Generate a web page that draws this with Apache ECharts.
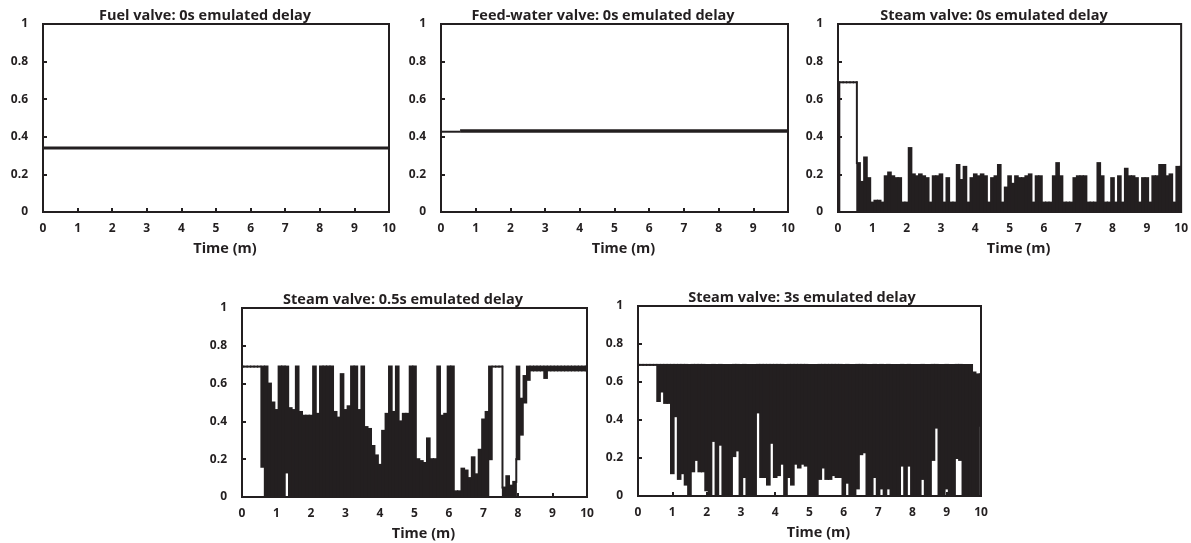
<!DOCTYPE html>
<html><head><meta charset="utf-8">
<script src="https://cdn.jsdelivr.net/npm/echarts@6/dist/echarts.min.js"></script>
<style>html,body{margin:0;padding:0;background:#fff}#c{width:1191px;height:543px}</style>
</head><body><div id="c"></div>
<script>
// ---------------- DATA ----------------
// Tick labels
const xTicks = [0,1,2,3,4,5,6,7,8,9,10];
const yTicks = [0,0.2,0.4,0.6,0.8,1];

// Panel titles
const titles = [
  'Fuel valve: 0s emulated delay',
  'Feed-water valve: 0s emulated delay',
  'Steam valve: 0s emulated delay',
  'Steam valve: 0.5s emulated delay',
  'Steam valve: 3s emulated delay'
];

// Fuel valve (constant)
const fuelTimes  = [0, 10];
const fuelValues = [0.34, 0.34];

// Feed-water valve
const feedStartTimes  = [0, 0.55];
const feedStartValues = [0.427, 0.427];
const feedMainTimes   = [0.55, 10];
const feedMainValues  = [0.431, 0.431];

// Time bins (minutes) for the oscillating steam-valve traces: each bin has a low and a high reading
const binTimes = [0,0.1,0.2,0.3,0.4,0.5,0.6,0.7,0.8,0.9,
  1,1.1,1.2,1.3,1.4,1.5,1.6,1.7,1.8,1.9,
  2,2.1,2.2,2.3,2.4,2.5,2.6,2.7,2.8,2.9,
  3,3.1,3.2,3.3,3.4,3.5,3.6,3.7,3.8,3.9,
  4,4.1,4.2,4.3,4.4,4.5,4.6,4.7,4.8,4.9,
  5,5.1,5.2,5.3,5.4,5.5,5.6,5.7,5.8,5.9,
  6,6.1,6.2,6.3,6.4,6.5,6.6,6.7,6.8,6.9,
  7,7.1,7.2,7.3,7.4,7.5,7.6,7.7,7.8,7.9,
  8,8.1,8.2,8.3,8.4,8.5,8.6,8.7,8.8,8.9,
  9,9.1,9.2,9.3,9.4,9.5,9.6,9.7,9.8,9.9,10];

// Steam valve, 0s delay
const steam0Low = [0,0.69,0.69,0.69,0.69,0.69,0,0,0,0,
  0,0,0,0,0,0,0,0,0,0,
  0,0,0,0,0,0,0,0,0,0,
  0,0,0,0,0,0,0,0,0,0,
  0,0,0,0,0,0,0,0,0,0,
  0,0,0,0,0,0,0,0,0,0,
  0,0,0,0,0,0,0,0,0,0,
  0,0,0,0,0,0,0,0,0,0,
  0,0,0,0,0,0,0,0,0,0,
  0,0,0,0,0,0,0,0,0,0,0];
const steam0High = [0.69,0.69,0.69,0.69,0.69,0.69,0.26,0.16,0.29,0.18,
  0.05,0.06,0.06,0.05,0.19,0.21,0.19,0.18,0.18,0.05,
  0.05,0.34,0.2,0.19,0.2,0.19,0.18,0.05,0.19,0.19,
  0.2,0.05,0.18,0.05,0.05,0.25,0.17,0.24,0.05,0.18,
  0.2,0.19,0.2,0.19,0.05,0.18,0.19,0.25,0.05,0.13,
  0.19,0.15,0.19,0.18,0.18,0.19,0.2,0.05,0.19,0.19,
  0.05,0.05,0.05,0.19,0.26,0.19,0.05,0.05,0.05,0.18,
  0.19,0.19,0.19,0.05,0.05,0.05,0.26,0.19,0.05,0.05,
  0.18,0.05,0.19,0.05,0.23,0.19,0.19,0.18,0.05,0.18,
  0.18,0.05,0.19,0.19,0.25,0.25,0.19,0.2,0.05,0.24,0.24];

// Steam valve, 0.5s delay
const steam05Low = [0.69,0.69,0.69,0.69,0.69,0.69,0.16,0,0,0,
  0,0,0,0.13,0,0,0,0,0,0,
  0,0,0,0,0,0,0,0,0,0,
  0,0,0,0,0,0,0,0,0,0,
  0,0,0,0,0,0,0,0,0,0,
  0,0,0,0,0,0,0,0,0,0,
  0,0,0,0,0,0,0,0,0,0,
  0,0,0.2,0.69,0.69,0.69,0,0,0,0,
  0.2,0.33,0.5,0.62,0.67,0.67,0.67,0.67,0.63,0.67,
  0.67,0.67,0.67,0.67,0.67,0.67,0.67,0.67,0.67,0.67,0.67];
const steam05High = [0.69,0.69,0.69,0.69,0.69,0.69,0.69,0.69,0.6,0.5,
  0.46,0.69,0.69,0.69,0.47,0.46,0.69,0.45,0.43,0.43,
  0.43,0.69,0.44,0.69,0.69,0.69,0.69,0.45,0.42,0.65,
  0.46,0.48,0.69,0.69,0.46,0.69,0.37,0.36,0.27,0.22,
  0.17,0.35,0.44,0.69,0.45,0.69,0.4,0.44,0.44,0.69,
  0.69,0.2,0.19,0.18,0.31,0.2,0.2,0.69,0.43,0.44,
  0.69,0.69,0.03,0.03,0.15,0.14,0.1,0.21,0.12,0.25,
  0.41,0.45,0.69,0.69,0.69,0.69,0.05,0.11,0.06,0.08,
  0.69,0.52,0.64,0.69,0.69,0.69,0.69,0.69,0.69,0.69,
  0.69,0.69,0.69,0.69,0.69,0.69,0.69,0.69,0.69,0.69,0.69];

// Steam valve, 3s delay
const steam3Low = [0.69,0.69,0.69,0.69,0.69,0.69,0.5,0.55,0.49,0.49,
  0.12,0.42,0.09,0.12,0.06,0,0.13,0.19,0.13,0.13,
  0.03,0,0.29,0,0.27,0,0,0,0.21,0.24,
  0,0.1,0,0,0,0.44,0.1,0.1,0.06,0.28,
  0.1,0.11,0.17,0,0.1,0.06,0.17,0.15,0.17,0.16,
  0,0,0,0.09,0.15,0.09,0.09,0.11,0.1,0.1,
  0,0.07,0,0,0.04,0.22,0.23,0,0,0.1,
  0,0.04,0,0.04,0,0,0,0.16,0,0.16,
  0,0,0,0.09,0,0,0.19,0.36,0,0,
  0.04,0,0,0.2,0.19,0,0,0,0,0,0.37];
const steam3High = [0.69,0.69,0.69,0.69,0.69,0.69,0.69,0.69,0.69,0.69,
  0.69,0.69,0.69,0.69,0.69,0.69,0.69,0.69,0.69,0.69,
  0.69,0.69,0.69,0.69,0.69,0.69,0.69,0.69,0.69,0.69,
  0.69,0.69,0.69,0.69,0.69,0.69,0.69,0.69,0.69,0.69,
  0.69,0.69,0.69,0.69,0.69,0.69,0.69,0.69,0.69,0.69,
  0.69,0.69,0.69,0.69,0.69,0.69,0.69,0.69,0.69,0.69,
  0.69,0.69,0.69,0.69,0.69,0.69,0.69,0.69,0.69,0.69,
  0.69,0.69,0.69,0.69,0.69,0.69,0.69,0.69,0.69,0.69,
  0.69,0.69,0.69,0.69,0.69,0.69,0.69,0.69,0.69,0.69,
  0.69,0.69,0.69,0.69,0.69,0.69,0.69,0.69,0.65,0.64,0.64];

// ---------------- CHART ----------------
const ink = '#231f20';
const font = '"Open Sans", Lato, "DejaVu Sans", sans-serif';

function pairs(ts, vs) { return ts.map((t, i) => [t, vs[i]]); }

const layout = [
  { grid: {left: 43,  top: 24,  width: 346, height: 188}, tx: 205, ty: 8 },
  { grid: {left: 441, top: 24,  width: 347, height: 188}, tx: 603, ty: 8 },
  { grid: {left: 838, top: 24,  width: 345, height: 188}, tx: 994, ty: 8 },
  { grid: {left: 242, top: 308, width: 345, height: 189}, tx: 403, ty: 292 },
  { grid: {left: 638, top: 306, width: 343, height: 190}, tx: 802, ty: 290 }
];

const grids = [], xAxes = [], yAxes = [], titleOpts = [];
layout.forEach((p, k) => {
  grids.push(Object.assign({show: true, borderColor: ink, borderWidth: 2, backgroundColor: 'transparent'}, p.grid));
  xAxes.push({
    type: 'value', gridIndex: k, min: xTicks[0], max: xTicks[xTicks.length - 1], interval: 1,
    axisLine: {show: true, onZero: false, lineStyle: {color: ink, width: 2}},
    axisTick: {show: true, inside: true, length: 4, lineStyle: {color: ink, width: 2}},
    axisLabel: {color: ink, fontFamily: font, fontWeight: 'bold', fontSize: 12, margin: 11},
    splitLine: {show: false},
    name: 'Time (m)', nameLocation: 'middle', nameGap: 29,
    nameTextStyle: {color: ink, fontFamily: font, fontWeight: 'bold', fontSize: 14.5, padding: [0, 0, 0, 18]}
  });
  yAxes.push({
    type: 'value', gridIndex: k, min: yTicks[0], max: yTicks[yTicks.length - 1], interval: 0.2,
    axisLine: {show: true, onZero: false, lineStyle: {color: ink, width: 2}},
    axisTick: {show: true, inside: true, length: 4, lineStyle: {color: ink, width: 2}},
    axisLabel: {color: ink, fontFamily: font, fontWeight: 'bold', fontSize: 12, margin: 15},
    splitLine: {show: false}
  });
  titleOpts.push({
    text: titles[k], left: p.tx, top: p.ty, textAlign: 'center', padding: 0,
    textStyle: {color: ink, fontFamily: font, fontWeight: 'bold', fontSize: 14.5}
  });
});

function lineSeries(k, data, width) {
  return {
    type: 'line', xAxisIndex: k, yAxisIndex: k, data: data,
    showSymbol: false, symbol: 'none', animation: false,
    lineStyle: {color: ink, width: width}
  };
}

// Each bin: the range between its low and high reading, filled; consecutive bins joined by a vertical stroke
function bandSeries(k, lo, hi) {
  const half = (binTimes[1] - binTimes[0]) / 2;
  return {
    type: 'custom', xAxisIndex: k, yAxisIndex: k, clip: true, animation: false,
    data: binTimes.map((t, i) => [t, lo[i], hi[i]]),
    encode: {x: 0, y: [1, 2]},
    renderItem: function (params, api) {
      const i = params.dataIndex;
      const t = api.value(0), l = api.value(1), h = api.value(2);
      const a = api.coord([t - half, h]);
      const b = api.coord([t + half, l]);
      const children = [{
        type: 'rect',
        shape: {x: a[0] - 0.6, y: a[1] - 1, width: b[0] - a[0] + 1.2, height: b[1] - a[1] + 2},
        style: {fill: ink}
      }];
      if (i < binTimes.length - 1) {
        const nl = lo[i + 1], nh = hi[i + 1];
        let y0 = null, y1 = null;
        if (h < nl) { y0 = h; y1 = nl; }
        else if (l > nh) { y0 = nh; y1 = l; }
        if (y0 !== null) {
          const p = api.coord([t + half, y0]);
          const q = api.coord([t + half, y1]);
          children.push({type: 'line', shape: {x1: p[0], y1: p[1] + 1, x2: q[0], y2: q[1] - 1},
            style: {stroke: ink, lineWidth: 2}});
        }
      }
      return {type: 'group', children: children};
    }
  };
}

const series = [
  lineSeries(0, pairs(fuelTimes, fuelValues), 3),
  lineSeries(1, pairs(feedStartTimes, feedStartValues), 2),
  lineSeries(1, pairs(feedMainTimes, feedMainValues), 3.5),
  bandSeries(2, steam0Low, steam0High),
  bandSeries(3, steam05Low, steam05High),
  bandSeries(4, steam3Low, steam3High)
];

const chart = echarts.init(document.getElementById('c'), null, {renderer: 'canvas'});
chart.setOption({
  animation: false,
  backgroundColor: '#fff',
  title: titleOpts,
  grid: grids,
  xAxis: xAxes,
  yAxis: yAxes,
  series: series
});
</script>
</body></html>
